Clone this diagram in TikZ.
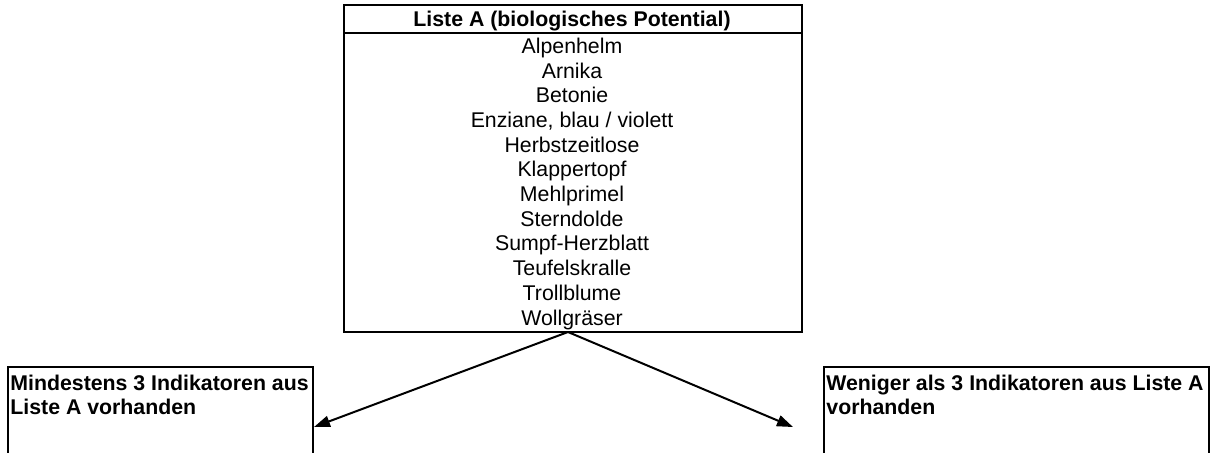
\documentclass[tikz,border=0pt]{standalone}
\usepackage{fontspec}
\setmainfont{Liberation Sans}
\usetikzlibrary{fit,arrows.meta}
\begin{document}
\begin{tikzpicture}[x=0.5pt,y=-0.5pt,
  frame/.style={draw=black, line width=1pt, inner sep=0pt},
  item/.style={anchor=base, inner sep=0pt, font=\fontsize{10.65}{12.45}\selectfont},
  head/.style={anchor=base, inner sep=0pt, font=\fontsize{10.65}{12.45}\selectfont\bfseries},
  lbl/.style={anchor=base west, inner sep=0pt, font=\fontsize{10.65}{12.45}\selectfont\bfseries},
  arr/.style={line width=1pt, -{Triangle[length=8pt,width=5.6pt]}}]
\useasboundingbox (0,0) rectangle (1225,452);
\clip (0,0) rectangle (1225,452);
% top box
\coordinate (tl) at (344,5);
\coordinate (br) at (802,332);
\node[frame, fit=(tl)(br)] (listA) {};
\coordinate (sepL) at (344,33);
\coordinate (sepR) at (802,33);
\draw[line width=1pt] (sepL) -- (sepR);
\node[head] (hdr) at (572,26.5) {Liste A (biologisches Potential)};
\foreach \t [count=\i from 0] in {Alpenhelm, Arnika, Betonie, {Enziane, blau / violett}, Herbstzeitlose, Klappertopf, Mehlprimel, Sterndolde, Sumpf-Herzblatt, Teufelskralle, Trollblume, Wollgräser}
  \node[item] (r\i) at (572,{53.3+24.7*\i}) {\t};
% bottom left box
\coordinate (blt) at (8,367);
\coordinate (blb) at (313,470);
\node[frame, fit=(blt)(blb)] (mind) {};
\node[lbl] (mind1) at (10,390) {Mindestens 3 Indikatoren aus};
\node[lbl] (mind2) at (10,414.7) {Liste A vorhanden};
% bottom right box
\coordinate (brt) at (824,367);
\coordinate (brb) at (1209,470);
\node[frame, fit=(brt)(brb)] (wen) {};
\node[lbl] (wen1) at (826,390) {Weniger als 3 Indikatoren aus Liste A};
\node[lbl] (wen2) at (826,414.7) {vorhanden};
% arrows
\coordinate (apex) at (568,332);
\coordinate (rtip) at (793,427);
\draw[arr] (apex) -- (mind.east |- 0,427);
\draw[arr] (apex) -- (rtip);
\end{tikzpicture}
\end{document}
